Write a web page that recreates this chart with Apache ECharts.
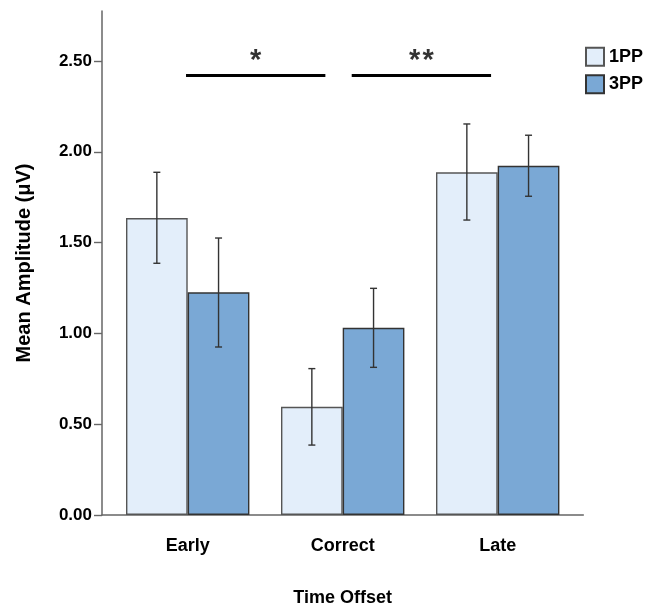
<!DOCTYPE html>
<html>
<head>
<meta charset="utf-8">
<script src="https://cdn.jsdelivr.net/npm/echarts@6/dist/echarts.min.js"></script>
<style>
  html, body { margin: 0; padding: 0; background: #fff; }
  #chart { width: 646px; height: 610px; }
</style>
</head>
<body>
<div id="chart"></div>
<script>
// Mean amplitude per time-offset condition, with error bar bounds
const categories = ['Early', 'Correct', 'Late'];
const seriesNames = ['1PP', '3PP'];
const mean1PP = [1.635, 0.596, 1.887];
const low1PP  = [1.386, 0.385, 1.624];
const high1PP = [1.887, 0.806, 2.153];
const mean3PP = [1.226, 1.031, 1.923];
const low3PP  = [0.925, 0.813, 1.755];
const high3PP = [1.525, 1.248, 2.091];
const yTicks = [0, 0.5, 1, 1.5, 2, 2.5];
const yMax = 2.775;

// Significance brackets: x in category units (0 = Early, 1 = Correct, 2 = Late)
const bracketFrom  = [-0.011, 1.058];
const bracketTo    = [0.888, 1.957];
const bracketY     = [2.42, 2.42];
const bracketMarks = ['*', '*\u200A*'];

const FONT = '"Liberation Sans", Arial, sans-serif';
const BAR_W = 61.7;
const COLORS = ['#e3eefa', '#7aa8d5'];

function errorBarSeries(name, lows, highs, shift) {
  return {
    type: 'custom',
    name: name + ' error',
    xAxisIndex: 1,
    yAxisIndex: 1,
    z: 5,
    silent: true,
    data: categories.map((c, i) => [i, lows[i], highs[i]]),
    encode: { x: 0, y: [1, 2] },
    renderItem: function (params, api) {
      const lo = api.coord([api.value(0), api.value(1)]);
      const hi = api.coord([api.value(0), api.value(2)]);
      const x = lo[0] + shift * BAR_W / 2;
      const cap = 3.5;
      const st = { stroke: '#333', lineWidth: 1.4 };
      return {
        type: 'group',
        children: [
          { type: 'line', shape: { x1: x, y1: lo[1], x2: x, y2: hi[1] }, style: st },
          { type: 'line', shape: { x1: x - cap, y1: hi[1], x2: x + cap, y2: hi[1] }, style: st },
          { type: 'line', shape: { x1: x - cap, y1: lo[1], x2: x + cap, y2: lo[1] }, style: st }
        ]
      };
    }
  };
}

const bracketSeries = bracketFrom.map((f, i) => ({
  type: 'line',
  xAxisIndex: 0,
  yAxisIndex: 0,
  silent: true,
  symbol: 'none',
  lineStyle: { color: '#000', width: 3 },
  data: [[f, bracketY[i]], [bracketTo[i], bracketY[i]]]
}));

const starSeries = {
  type: 'scatter',
  xAxisIndex: 0,
  yAxisIndex: 0,
  silent: true,
  symbolSize: 1,
  itemStyle: { color: 'rgba(0,0,0,0)' },
  data: bracketFrom.map((f, i) => ({
    value: [(f + bracketTo[i]) / 2, bracketY[i] + 0.08],
    mark: bracketMarks[i]
  })),
  label: {
    show: true,
    position: 'inside',
    formatter: p => p.data.mark,
    color: '#000',
    fontFamily: FONT,
    fontWeight: 'bold',
    fontSize: 29
  }
};

const chart = echarts.init(document.getElementById('chart'), null, { renderer: 'canvas' });
chart.setOption({
  animation: false,
  backgroundColor: '#fff',
  textStyle: { fontFamily: FONT, color: '#000' },
  grid: [
    { left: 102, right: 62.7, top: 11, bottom: 95, outerBoundsMode: 'none' },
    { left: 110.2, width: 465, top: 11, bottom: 95, outerBoundsMode: 'none' }
  ],
  legend: {
    data: seriesNames,
    orient: 'vertical',
    left: 585,
    top: 46.7,
    padding: 0,
    itemWidth: 18,
    itemHeight: 18,
    itemGap: 7.6,
    icon: 'rect',
    textStyle: { fontFamily: FONT, fontSize: 18, fontWeight: 'bold', color: '#000' }
  },
  xAxis: [
    {
      type: 'value',
      gridIndex: 0,
      min: -0.553,
      max: 2.552,
      axisLine: { show: true, onZero: false, lineStyle: { color: '#666', width: 1.5 } },
      axisTick: { show: false },
      axisLabel: { show: false },
      splitLine: { show: false },
      name: 'Time Offset',
      nameLocation: 'middle',
      nameGap: 74,
      nameTextStyle: { fontFamily: FONT, fontWeight: 'bold', fontSize: 18, color: '#000' }
    },
    {
      type: 'category',
      gridIndex: 1,
      data: categories,
      axisLine: { show: false },
      axisTick: { show: false },
      axisLabel: { margin: 22, fontFamily: FONT, fontWeight: 'bold', fontSize: 18, color: '#000' }
    }
  ],
  yAxis: [
    {
      type: 'value',
      gridIndex: 0,
      min: 0,
      max: yMax,
      axisLine: { show: true, onZero: false, lineStyle: { color: '#666', width: 1.5 } },
      axisTick: { show: true, length: 8, customValues: yTicks, lineStyle: { color: '#666', width: 1.4 } },
      axisLabel: {
        margin: 10,
        customValues: yTicks,
        fontFamily: FONT,
        fontWeight: 'bold',
        fontSize: 17,
        color: '#000',
        formatter: v => v.toFixed(2)
      },
      splitLine: { show: false },
      name: 'Mean Amplitude (μV)',
      nameLocation: 'middle',
      nameGap: 68,
      nameTextStyle: { fontFamily: FONT, fontWeight: 'bold', fontSize: 20, color: '#000' }
    },
    {
      type: 'value',
      gridIndex: 1,
      min: 0,
      max: yMax,
      show: false
    }
  ],
  series: [
    {
      name: seriesNames[0],
      type: 'bar',
      xAxisIndex: 1,
      yAxisIndex: 1,
      barWidth: BAR_W,
      barGap: '0%',
      data: mean1PP,
      itemStyle: { color: COLORS[0], borderColor: '#555', borderWidth: 1.4 }
    },
    {
      name: seriesNames[1],
      type: 'bar',
      xAxisIndex: 1,
      yAxisIndex: 1,
      barWidth: BAR_W,
      barGap: '0%',
      data: mean3PP,
      itemStyle: { color: COLORS[1], borderColor: '#333', borderWidth: 1.4 }
    },
    errorBarSeries(seriesNames[0], low1PP, high1PP, -1),
    errorBarSeries(seriesNames[1], low3PP, high3PP, 1),
    ...bracketSeries,
    starSeries
  ]
});
</script>
</body>
</html>
